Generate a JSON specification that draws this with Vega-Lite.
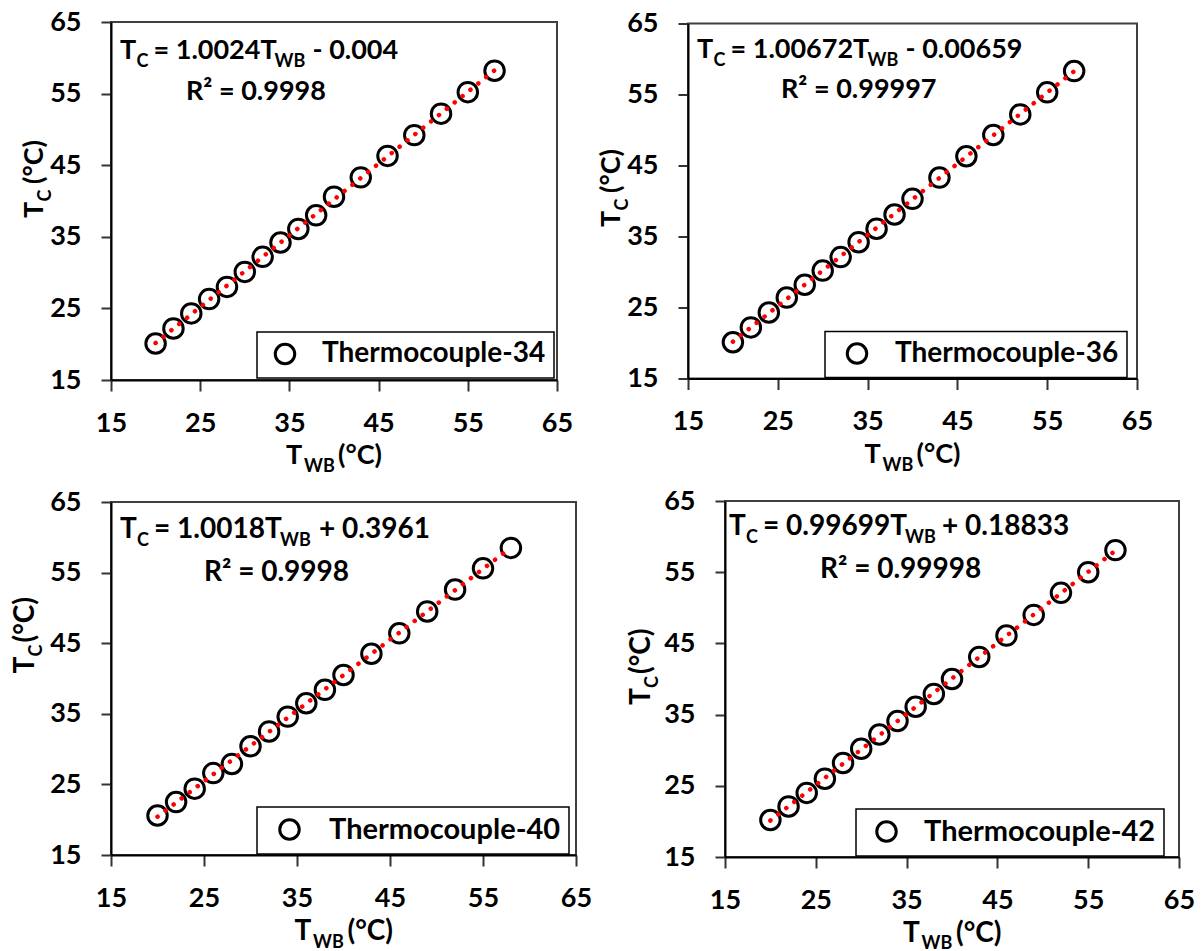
{
  "$schema": "https://vega.github.io/schema/vega-lite/v6.json",
  "background": "white",
  "padding": {"left": 10, "top": 7, "right": 0, "bottom": 0},
  "config": {
    "font": "Lato",
    "view": {"stroke": "#404040", "strokeWidth": 2},
    "axis": {"grid": false, "labelFont": "Lato", "labelFontSize": 27, "labelFontWeight": "bold", "labelColor": "#000000", "domainColor": "#000000", "domainWidth": 2, "tickColor": "#333333", "tickWidth": 2},
    "axisX": {"tickSize": 11, "labelPadding": 19, "labelFlush": false},
    "axisY": {"tickSize": 10, "labelPadding": 20},
    "legend": {"strokeColor": "#000000", "fillColor": "#ffffff", "strokeWidth": 1.5, "padding": 8, "title": null, "labelFont": "Lato", "labelFontWeight": "bold", "labelFontSize": 28, "labelColor": "#000000", "labelLimit": 400, "symbolType": "circle", "symbolSize": 380, "symbolStrokeWidth": 3},
    "text": {"font": "Lato", "fontWeight": "bold", "fontSize": 27, "fill": "#000000", "align": "left", "baseline": "alphabetic"}
  },
  "datasets": {
    "tc34": [
      {"sensor": "Thermocouple-34", "Twb": 20, "Tc": 20.1}, {"sensor": "Thermocouple-34", "Twb": 22, "Tc": 22.2},
      {"sensor": "Thermocouple-34", "Twb": 24, "Tc": 24.3}, {"sensor": "Thermocouple-34", "Twb": 26, "Tc": 26.3},
      {"sensor": "Thermocouple-34", "Twb": 28, "Tc": 28.0}, {"sensor": "Thermocouple-34", "Twb": 30, "Tc": 30.1},
      {"sensor": "Thermocouple-34", "Twb": 32, "Tc": 32.2}, {"sensor": "Thermocouple-34", "Twb": 34, "Tc": 34.2},
      {"sensor": "Thermocouple-34", "Twb": 36, "Tc": 36.1}, {"sensor": "Thermocouple-34", "Twb": 38, "Tc": 38.0},
      {"sensor": "Thermocouple-34", "Twb": 40, "Tc": 40.6}, {"sensor": "Thermocouple-34", "Twb": 43, "Tc": 43.3},
      {"sensor": "Thermocouple-34", "Twb": 46, "Tc": 46.3}, {"sensor": "Thermocouple-34", "Twb": 49, "Tc": 49.2},
      {"sensor": "Thermocouple-34", "Twb": 52, "Tc": 52.2}, {"sensor": "Thermocouple-34", "Twb": 55, "Tc": 55.2},
      {"sensor": "Thermocouple-34", "Twb": 58, "Tc": 58.2}
    ],
    "tc36": [
      {"sensor": "Thermocouple-36", "Twb": 20, "Tc": 20.1}, {"sensor": "Thermocouple-36", "Twb": 22, "Tc": 22.2},
      {"sensor": "Thermocouple-36", "Twb": 24, "Tc": 24.3}, {"sensor": "Thermocouple-36", "Twb": 26, "Tc": 26.4},
      {"sensor": "Thermocouple-36", "Twb": 28, "Tc": 28.2}, {"sensor": "Thermocouple-36", "Twb": 30, "Tc": 30.2},
      {"sensor": "Thermocouple-36", "Twb": 32, "Tc": 32.1}, {"sensor": "Thermocouple-36", "Twb": 34, "Tc": 34.2},
      {"sensor": "Thermocouple-36", "Twb": 36, "Tc": 36.1}, {"sensor": "Thermocouple-36", "Twb": 38, "Tc": 38.1},
      {"sensor": "Thermocouple-36", "Twb": 40, "Tc": 40.3}, {"sensor": "Thermocouple-36", "Twb": 43, "Tc": 43.3},
      {"sensor": "Thermocouple-36", "Twb": 46, "Tc": 46.3}, {"sensor": "Thermocouple-36", "Twb": 49, "Tc": 49.3},
      {"sensor": "Thermocouple-36", "Twb": 52, "Tc": 52.2}, {"sensor": "Thermocouple-36", "Twb": 55, "Tc": 55.3},
      {"sensor": "Thermocouple-36", "Twb": 58, "Tc": 58.3}
    ],
    "tc40": [
      {"sensor": "Thermocouple-40", "Twb": 20, "Tc": 20.6}, {"sensor": "Thermocouple-40", "Twb": 22, "Tc": 22.5},
      {"sensor": "Thermocouple-40", "Twb": 24, "Tc": 24.4}, {"sensor": "Thermocouple-40", "Twb": 26, "Tc": 26.6},
      {"sensor": "Thermocouple-40", "Twb": 28, "Tc": 27.9}, {"sensor": "Thermocouple-40", "Twb": 30, "Tc": 30.4},
      {"sensor": "Thermocouple-40", "Twb": 32, "Tc": 32.5}, {"sensor": "Thermocouple-40", "Twb": 34, "Tc": 34.6},
      {"sensor": "Thermocouple-40", "Twb": 36, "Tc": 36.5}, {"sensor": "Thermocouple-40", "Twb": 38, "Tc": 38.4},
      {"sensor": "Thermocouple-40", "Twb": 40, "Tc": 40.5}, {"sensor": "Thermocouple-40", "Twb": 43, "Tc": 43.5},
      {"sensor": "Thermocouple-40", "Twb": 46, "Tc": 46.4}, {"sensor": "Thermocouple-40", "Twb": 49, "Tc": 49.5},
      {"sensor": "Thermocouple-40", "Twb": 52, "Tc": 52.6}, {"sensor": "Thermocouple-40", "Twb": 55, "Tc": 55.6},
      {"sensor": "Thermocouple-40", "Twb": 58, "Tc": 58.5}
    ],
    "tc42": [
      {"sensor": "Thermocouple-42", "Twb": 20, "Tc": 20.2}, {"sensor": "Thermocouple-42", "Twb": 22, "Tc": 22.1},
      {"sensor": "Thermocouple-42", "Twb": 24, "Tc": 24.0}, {"sensor": "Thermocouple-42", "Twb": 26, "Tc": 26.0},
      {"sensor": "Thermocouple-42", "Twb": 28, "Tc": 28.2}, {"sensor": "Thermocouple-42", "Twb": 30, "Tc": 30.2},
      {"sensor": "Thermocouple-42", "Twb": 32, "Tc": 32.2}, {"sensor": "Thermocouple-42", "Twb": 34, "Tc": 34.1},
      {"sensor": "Thermocouple-42", "Twb": 36, "Tc": 36.1}, {"sensor": "Thermocouple-42", "Twb": 38, "Tc": 37.9},
      {"sensor": "Thermocouple-42", "Twb": 40, "Tc": 40.0}, {"sensor": "Thermocouple-42", "Twb": 43, "Tc": 43.1},
      {"sensor": "Thermocouple-42", "Twb": 46, "Tc": 46.1}, {"sensor": "Thermocouple-42", "Twb": 49, "Tc": 49.0},
      {"sensor": "Thermocouple-42", "Twb": 52, "Tc": 52.1}, {"sensor": "Thermocouple-42", "Twb": 55, "Tc": 55.0},
      {"sensor": "Thermocouple-42", "Twb": 58, "Tc": 58.1}
    ]
  },
  "spacing": 9,
  "resolve": {"scale": {"stroke": "independent"}, "legend": {"stroke": "independent"}},
  "vconcat": [
    {
      "hconcat": [
        {
          "width": 446, "height": 358,
          "layer": [
            {"data": {"name": "tc34"},
             "mark": {"type": "point", "shape": "circle", "filled": false, "size": 380, "strokeWidth": 3, "opacity": 1},
             "encoding": {
               "x": {"field": "Twb", "type": "quantitative", "scale": {"domain": [15, 65], "nice": false, "zero": false}, "axis": {"title": null, "values": [15, 25, 35, 45, 55, 65]}},
               "y": {"field": "Tc", "type": "quantitative", "scale": {"domain": [15, 65], "nice": false, "zero": false}, "axis": {"title": null, "values": [15, 25, 35, 45, 55, 65]}},
               "stroke": {"field": "sensor", "type": "nominal", "scale": {"range": ["#000000"]},
                 "legend": {"orient": "none", "legendX": 146, "legendY": 310, "symbolOffset": 6, "labelOffset": 23}}}},
            {"data": {"name": "tc34"},
             "transform": [{"regression": "Tc", "on": "Twb"}],
             "mark": {"type": "line", "color": "#ff0000", "strokeWidth": 4.5, "strokeDash": [0.1, 10], "strokeCap": "round"},
             "encoding": {"x": {"field": "Twb", "type": "quantitative"}, "y": {"field": "Tc", "type": "quantitative"}}},
            {"data": {"values": [{"label": "T"}]}, "mark": {"type": "text", "dx": 9, "dy": 37}, "encoding": {"x": {"datum": 15}, "y": {"datum": 65}, "text": {"field": "label"}}},
            {"data": {"values": [{"label": "C"}]}, "mark": {"type": "text", "fontSize": 18, "dx": 25.5, "dy": 45}, "encoding": {"x": {"datum": 15}, "y": {"datum": 65}, "text": {"field": "label"}}},
            {"data": {"values": [{"label": "= 1.0024T"}]}, "mark": {"type": "text", "dx": 42.5, "dy": 37}, "encoding": {"x": {"datum": 15}, "y": {"datum": 65}, "text": {"field": "label"}}},
            {"data": {"values": [{"label": "WB"}]}, "mark": {"type": "text", "fontSize": 18, "dx": 163.5, "dy": 45}, "encoding": {"x": {"datum": 15}, "y": {"datum": 65}, "text": {"field": "label"}}},
            {"data": {"values": [{"label": "- 0.004"}]}, "mark": {"type": "text", "dx": 201.5, "dy": 37}, "encoding": {"x": {"datum": 15}, "y": {"datum": 65}, "text": {"field": "label"}}},
            {"data": {"values": [{"label": "R² = 0.9998"}]}, "mark": {"type": "text", "dx": 75, "dy": 78}, "encoding": {"x": {"datum": 15}, "y": {"datum": 65}, "text": {"field": "label"}}},
            {"data": {"values": [{"label": "T"}]}, "mark": {"type": "text", "dx": -48, "dy": 84}, "encoding": {"x": {"datum": 40}, "y": {"datum": 15}, "text": {"field": "label"}}},
            {"data": {"values": [{"label": "WB"}]}, "mark": {"type": "text", "fontSize": 18, "dx": -30, "dy": 92}, "encoding": {"x": {"datum": 40}, "y": {"datum": 15}, "text": {"field": "label"}}},
            {"data": {"values": [{"label": "(°C)"}]}, "mark": {"type": "text", "dx": 4, "dy": 84}, "encoding": {"x": {"datum": 40}, "y": {"datum": 15}, "text": {"field": "label"}}},
            {"data": {"values": [{"label": "T"}]}, "mark": {"type": "text", "angle": 270, "dx": -17, "dy": -68}, "encoding": {"x": {"datum": 15}, "y": {"datum": 40}, "text": {"field": "label"}}},
            {"data": {"values": [{"label": "C"}]}, "mark": {"type": "text", "fontSize": 18, "angle": 270, "dx": -0.5, "dy": -60}, "encoding": {"x": {"datum": 15}, "y": {"datum": 40}, "text": {"field": "label"}}},
            {"data": {"values": [{"label": "(°C)"}]}, "mark": {"type": "text", "angle": 270, "dx": 17, "dy": -68}, "encoding": {"x": {"datum": 15}, "y": {"datum": 40}, "text": {"field": "label"}}}
          ]
        },
        {
          "width": 449, "height": 355,
          "layer": [
            {"data": {"name": "tc36"},
             "mark": {"type": "point", "shape": "circle", "filled": false, "size": 380, "strokeWidth": 3, "opacity": 1},
             "encoding": {
               "x": {"field": "Twb", "type": "quantitative", "scale": {"domain": [15, 65], "nice": false, "zero": false}, "axis": {"title": null, "values": [15, 25, 35, 45, 55, 65]}},
               "y": {"field": "Tc", "type": "quantitative", "scale": {"domain": [15, 65], "nice": false, "zero": false}, "axis": {"title": null, "values": [15, 25, 35, 45, 55, 65]}},
               "stroke": {"field": "sensor", "type": "nominal", "scale": {"range": ["#000000"]},
                 "legend": {"orient": "none", "legendX": 137, "legendY": 308, "symbolOffset": 10, "labelOffset": 24}}}},
            {"data": {"name": "tc36"},
             "transform": [{"regression": "Tc", "on": "Twb"}],
             "mark": {"type": "line", "color": "#ff0000", "strokeWidth": 4.5, "strokeDash": [0.1, 10], "strokeCap": "round"},
             "encoding": {"x": {"field": "Twb", "type": "quantitative"}, "y": {"field": "Tc", "type": "quantitative"}}},
            {"data": {"values": [{"label": "T"}]}, "mark": {"type": "text", "dx": 9, "dy": 34}, "encoding": {"x": {"datum": 15}, "y": {"datum": 65}, "text": {"field": "label"}}},
            {"data": {"values": [{"label": "C"}]}, "mark": {"type": "text", "fontSize": 18, "dx": 25.5, "dy": 42}, "encoding": {"x": {"datum": 15}, "y": {"datum": 65}, "text": {"field": "label"}}},
            {"data": {"values": [{"label": "= 1.00672T"}]}, "mark": {"type": "text", "dx": 42.5, "dy": 34}, "encoding": {"x": {"datum": 15}, "y": {"datum": 65}, "text": {"field": "label"}}},
            {"data": {"values": [{"label": "WB"}]}, "mark": {"type": "text", "fontSize": 18, "dx": 179.5, "dy": 42}, "encoding": {"x": {"datum": 15}, "y": {"datum": 65}, "text": {"field": "label"}}},
            {"data": {"values": [{"label": "- 0.00659"}]}, "mark": {"type": "text", "dx": 217.5, "dy": 34}, "encoding": {"x": {"datum": 15}, "y": {"datum": 65}, "text": {"field": "label"}}},
            {"data": {"values": [{"label": "R² = 0.99997"}]}, "mark": {"type": "text", "dx": 93, "dy": 74}, "encoding": {"x": {"datum": 15}, "y": {"datum": 65}, "text": {"field": "label"}}},
            {"data": {"values": [{"label": "T"}]}, "mark": {"type": "text", "dx": -48, "dy": 84}, "encoding": {"x": {"datum": 40}, "y": {"datum": 15}, "text": {"field": "label"}}},
            {"data": {"values": [{"label": "WB"}]}, "mark": {"type": "text", "fontSize": 18, "dx": -30, "dy": 92}, "encoding": {"x": {"datum": 40}, "y": {"datum": 15}, "text": {"field": "label"}}},
            {"data": {"values": [{"label": "(°C)"}]}, "mark": {"type": "text", "dx": 4, "dy": 84}, "encoding": {"x": {"datum": 40}, "y": {"datum": 15}, "text": {"field": "label"}}},
            {"data": {"values": [{"label": "T"}]}, "mark": {"type": "text", "angle": 270, "dx": -26, "dy": -68}, "encoding": {"x": {"datum": 15}, "y": {"datum": 40}, "text": {"field": "label"}}},
            {"data": {"values": [{"label": "C"}]}, "mark": {"type": "text", "fontSize": 18, "angle": 270, "dx": -9.5, "dy": -60}, "encoding": {"x": {"datum": 15}, "y": {"datum": 40}, "text": {"field": "label"}}},
            {"data": {"values": [{"label": "(°C)"}]}, "mark": {"type": "text", "angle": 270, "dx": 8, "dy": -68}, "encoding": {"x": {"datum": 15}, "y": {"datum": 40}, "text": {"field": "label"}}}
          ]
        }
      ],
      "spacing": 22,
      "center": true,
      "resolve": {"scale": {"stroke": "independent"}, "legend": {"stroke": "independent"}}
    },
    {
      "hconcat": [
        {
          "width": 465, "height": 353,
          "layer": [
            {"data": {"name": "tc40"},
             "mark": {"type": "point", "shape": "circle", "filled": false, "size": 380, "strokeWidth": 3, "opacity": 1},
             "encoding": {
               "x": {"field": "Twb", "type": "quantitative", "scale": {"domain": [15, 65], "nice": false, "zero": false}, "axis": {"title": null, "values": [15, 25, 35, 45, 55, 65]}},
               "y": {"field": "Tc", "type": "quantitative", "scale": {"domain": [15, 65], "nice": false, "zero": false}, "axis": {"title": null, "values": [15, 25, 35, 45, 55, 65]}},
               "stroke": {"field": "sensor", "type": "nominal", "scale": {"range": ["#000000"]},
                 "legend": {"orient": "none", "legendX": 146, "legendY": 305, "symbolOffset": 10, "labelOffset": 25, "labelFontSize": 29}}}},
            {"data": {"name": "tc40"},
             "transform": [{"regression": "Tc", "on": "Twb"}],
             "mark": {"type": "line", "color": "#ff0000", "strokeWidth": 4.5, "strokeDash": [0.1, 10], "strokeCap": "round"},
             "encoding": {"x": {"field": "Twb", "type": "quantitative"}, "y": {"field": "Tc", "type": "quantitative"}}},
            {"data": {"values": [{"label": "T"}]}, "mark": {"type": "text", "fontSize": 28, "dx": 9, "dy": 36}, "encoding": {"x": {"datum": 15}, "y": {"datum": 65}, "text": {"field": "label"}}},
            {"data": {"values": [{"label": "C"}]}, "mark": {"type": "text", "fontSize": 18, "dx": 26, "dy": 44}, "encoding": {"x": {"datum": 15}, "y": {"datum": 65}, "text": {"field": "label"}}},
            {"data": {"values": [{"label": "= 1.0018T"}]}, "mark": {"type": "text", "fontSize": 28, "dx": 43, "dy": 36}, "encoding": {"x": {"datum": 15}, "y": {"datum": 65}, "text": {"field": "label"}}},
            {"data": {"values": [{"label": "WB"}]}, "mark": {"type": "text", "fontSize": 18, "dx": 169, "dy": 44}, "encoding": {"x": {"datum": 15}, "y": {"datum": 65}, "text": {"field": "label"}}},
            {"data": {"values": [{"label": "+ 0.3961"}]}, "mark": {"type": "text", "fontSize": 28, "dx": 208, "dy": 36}, "encoding": {"x": {"datum": 15}, "y": {"datum": 65}, "text": {"field": "label"}}},
            {"data": {"values": [{"label": "R² = 0.9998"}]}, "mark": {"type": "text", "fontSize": 28, "dx": 93, "dy": 79}, "encoding": {"x": {"datum": 15}, "y": {"datum": 65}, "text": {"field": "label"}}},
            {"data": {"values": [{"label": "T"}]}, "mark": {"type": "text", "fontSize": 28, "dx": -49, "dy": 85}, "encoding": {"x": {"datum": 40}, "y": {"datum": 15}, "text": {"field": "label"}}},
            {"data": {"values": [{"label": "WB"}]}, "mark": {"type": "text", "fontSize": 18, "dx": -30.5, "dy": 93}, "encoding": {"x": {"datum": 40}, "y": {"datum": 15}, "text": {"field": "label"}}},
            {"data": {"values": [{"label": "(°C)"}]}, "mark": {"type": "text", "fontSize": 28, "dx": 4, "dy": 85}, "encoding": {"x": {"datum": 40}, "y": {"datum": 15}, "text": {"field": "label"}}},
            {"data": {"values": [{"label": "T"}]}, "mark": {"type": "text", "fontSize": 28, "angle": 270, "dx": 5, "dy": -77}, "encoding": {"x": {"datum": 15}, "y": {"datum": 40}, "text": {"field": "label"}}},
            {"data": {"values": [{"label": "C"}]}, "mark": {"type": "text", "fontSize": 18, "angle": 270, "dx": 22, "dy": -69}, "encoding": {"x": {"datum": 15}, "y": {"datum": 40}, "text": {"field": "label"}}},
            {"data": {"values": [{"label": "(°C)"}]}, "mark": {"type": "text", "fontSize": 28, "angle": 270, "dx": 36, "dy": -77}, "encoding": {"x": {"datum": 15}, "y": {"datum": 40}, "text": {"field": "label"}}}
          ]
        },
        {
          "width": 454, "height": 356,
          "layer": [
            {"data": {"name": "tc42"},
             "mark": {"type": "point", "shape": "circle", "filled": false, "size": 380, "strokeWidth": 3, "opacity": 1},
             "encoding": {
               "x": {"field": "Twb", "type": "quantitative", "scale": {"domain": [15, 65], "nice": false, "zero": false}, "axis": {"title": null, "values": [15, 25, 35, 45, 55, 65]}},
               "y": {"field": "Tc", "type": "quantitative", "scale": {"domain": [15, 65], "nice": false, "zero": false}, "axis": {"title": null, "values": [15, 25, 35, 45, 55, 65]}},
               "stroke": {"field": "sensor", "type": "nominal", "scale": {"range": ["#000000"]},
                 "legend": {"orient": "none", "legendX": 131, "legendY": 308, "symbolOffset": 8, "labelOffset": 23, "labelFontSize": 29}}}},
            {"data": {"name": "tc42"},
             "transform": [{"regression": "Tc", "on": "Twb"}],
             "mark": {"type": "line", "color": "#ff0000", "strokeWidth": 4.5, "strokeDash": [0.1, 10], "strokeCap": "round"},
             "encoding": {"x": {"field": "Twb", "type": "quantitative"}, "y": {"field": "Tc", "type": "quantitative"}}},
            {"data": {"values": [{"label": "T"}]}, "mark": {"type": "text", "fontSize": 28, "dx": 4, "dy": 34}, "encoding": {"x": {"datum": 15}, "y": {"datum": 65}, "text": {"field": "label"}}},
            {"data": {"values": [{"label": "C"}]}, "mark": {"type": "text", "fontSize": 18, "dx": 21, "dy": 42}, "encoding": {"x": {"datum": 15}, "y": {"datum": 65}, "text": {"field": "label"}}},
            {"data": {"values": [{"label": "= 0.99699T"}]}, "mark": {"type": "text", "fontSize": 28, "dx": 38, "dy": 34}, "encoding": {"x": {"datum": 15}, "y": {"datum": 65}, "text": {"field": "label"}}},
            {"data": {"values": [{"label": "WB"}]}, "mark": {"type": "text", "fontSize": 18, "dx": 180, "dy": 42}, "encoding": {"x": {"datum": 15}, "y": {"datum": 65}, "text": {"field": "label"}}},
            {"data": {"values": [{"label": "+ 0.18833"}]}, "mark": {"type": "text", "fontSize": 28, "dx": 217, "dy": 34}, "encoding": {"x": {"datum": 15}, "y": {"datum": 65}, "text": {"field": "label"}}},
            {"data": {"values": [{"label": "R² = 0.99998"}]}, "mark": {"type": "text", "fontSize": 28, "dx": 95, "dy": 77}, "encoding": {"x": {"datum": 15}, "y": {"datum": 65}, "text": {"field": "label"}}},
            {"data": {"values": [{"label": "T"}]}, "mark": {"type": "text", "fontSize": 28, "dx": -49, "dy": 85}, "encoding": {"x": {"datum": 40}, "y": {"datum": 15}, "text": {"field": "label"}}},
            {"data": {"values": [{"label": "WB"}]}, "mark": {"type": "text", "fontSize": 18, "dx": -30.5, "dy": 92}, "encoding": {"x": {"datum": 40}, "y": {"datum": 15}, "text": {"field": "label"}}},
            {"data": {"values": [{"label": "(°C)"}]}, "mark": {"type": "text", "fontSize": 28, "dx": 4, "dy": 85}, "encoding": {"x": {"datum": 40}, "y": {"datum": 15}, "text": {"field": "label"}}},
            {"data": {"values": [{"label": "T"}]}, "mark": {"type": "text", "fontSize": 28, "angle": 270, "dx": -26, "dy": -75}, "encoding": {"x": {"datum": 15}, "y": {"datum": 40}, "text": {"field": "label"}}},
            {"data": {"values": [{"label": "C"}]}, "mark": {"type": "text", "fontSize": 18, "angle": 270, "dx": -9, "dy": -67}, "encoding": {"x": {"datum": 15}, "y": {"datum": 40}, "text": {"field": "label"}}},
            {"data": {"values": [{"label": "(°C)"}]}, "mark": {"type": "text", "fontSize": 28, "angle": 270, "dx": 5, "dy": -75}, "encoding": {"x": {"datum": 15}, "y": {"datum": 40}, "text": {"field": "label"}}}
          ]
        }
      ],
      "spacing": 33,
      "center": true,
      "resolve": {"scale": {"stroke": "independent"}, "legend": {"stroke": "independent"}}
    }
  ]
}
